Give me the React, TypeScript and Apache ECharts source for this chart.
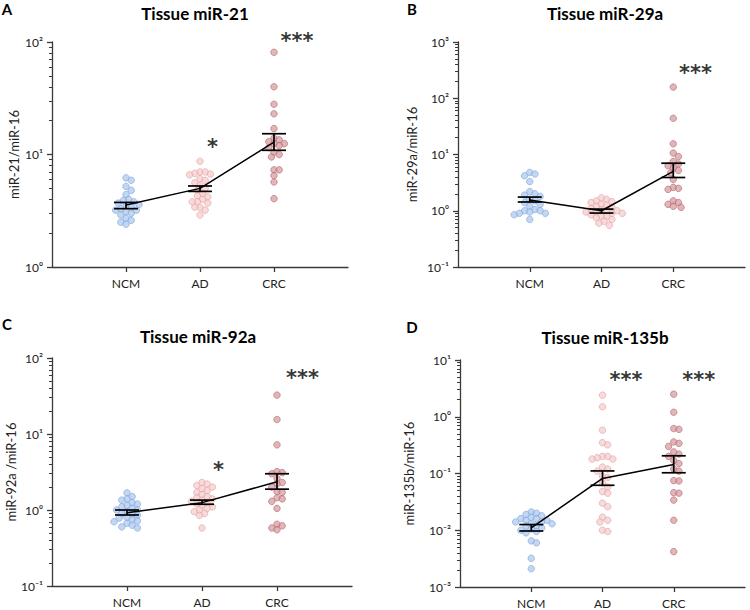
import React, { useEffect, useRef } from "react";
import * as echarts from "echarts";

const categories = ["NCM", "AD", "CRC"];

// Panel A – miR-21
const ncmA = [6.2, 5.9, 5.2, 4.8, 4.4, 4.0, 3.9, 3.8, 3.7, 3.6, 3.5, 3.4, 3.3, 3.2, 3.2, 3.1, 3.0, 2.9, 2.7, 2.6, 2.5, 2.4];
const adA = [8.7, 7.0, 7.0, 6.8, 6.7, 6.6, 6.1, 5.9, 5.6, 5.3, 5.0, 4.8, 4.5, 4.3, 4.2, 4.0, 3.8, 3.8, 3.7, 3.4, 3.4, 3.2, 2.9];
const crcA = [81, 40, 28, 23, 17, 14, 13.5, 13, 12.5, 12.5, 12, 11.5, 10.5, 10, 9.5, 7.3, 7.3, 6.5, 5.7, 4.05];
const meanA = [3.55, 5.0, 12.9];
const upperA = [3.75, 5.25, 15.3];
const lowerA = [3.3, 4.7, 10.9];

// Panel B – miR-29a
const ncmB = [4.8, 4.5, 4.2, 3.3, 2.2, 2.0, 1.9, 1.8, 1.6, 1.5, 1.4, 1.3, 1.2, 1.05, 1.0, 1.0, 0.95, 0.9, 0.9, 0.85, 0.7];
const adB = [1.7, 1.6, 1.5, 1.45, 1.4, 1.3, 1.25, 1.2, 1.15, 1.1, 1.05, 1.0, 1.0, 0.95, 0.95, 0.9, 0.9, 0.85, 0.8, 0.8, 0.75, 0.7, 0.65, 0.6, 0.55];
const crcB = [158, 44, 15.5, 10.6, 9.2, 7.5, 6.8, 6.3, 5.7, 5.2, 4.7, 3.6, 2.6, 2.5, 2.4, 1.5, 1.4, 1.3, 1.2, 1.15];
const meanB = [1.55, 1.0, 5.0];
const upperB = [1.75, 1.07, 7.0];
const lowerB = [1.43, 0.91, 3.9];

// Panel C – miR-92a
const ncmC = [1.68, 1.5, 1.4, 1.35, 1.25, 1.2, 1.15, 1.1, 1.05, 1.0, 1.0, 0.95, 0.9, 0.88, 0.85, 0.8, 0.78, 0.75, 0.72, 0.7, 0.67, 0.63, 0.6, 0.58];
const adC = [2.3, 2.2, 2.1, 2.0, 1.9, 1.8, 1.7, 1.6, 1.5, 1.45, 1.4, 1.35, 1.3, 1.25, 1.2, 1.15, 1.1, 1.05, 1.0, 0.95, 0.9, 0.85, 0.58];
const crcC = [32.5, 15.5, 7.2, 3.2, 3.1, 3.0, 2.6, 2.3, 2.2, 2.0, 1.75, 1.7, 1.45, 1.4, 1.3, 1.05, 0.65, 0.62, 0.58, 0.55];
const meanC = [0.92, 1.25, 2.35];
const upperC = [1.0, 1.35, 3.0];
const lowerC = [0.86, 1.19, 1.88];

// Panel D – miR-135b
const ncmD = [0.021, 0.02, 0.019, 0.018, 0.017, 0.016, 0.016, 0.015, 0.015, 0.014, 0.014, 0.013, 0.013, 0.012, 0.012, 0.011, 0.0105, 0.01, 0.0095, 0.009, 0.0065, 0.006, 0.0032, 0.0021];
const adD = [2.4, 1.5, 0.58, 0.35, 0.32, 0.2, 0.2, 0.19, 0.18, 0.18, 0.13, 0.12, 0.11, 0.09, 0.085, 0.068, 0.058, 0.048, 0.045, 0.03, 0.026, 0.017, 0.015, 0.014, 0.01, 0.0095];
const crcD = [2.5, 1.2, 0.62, 0.6, 0.36, 0.34, 0.3, 0.24, 0.22, 0.2, 0.17, 0.15, 0.12, 0.11, 0.075, 0.074, 0.046, 0.045, 0.034, 0.015, 0.0042];
const meanD = [0.011, 0.082, 0.144];
const upperD = [0.0126, 0.111, 0.205];
const lowerD = [0.0097, 0.062, 0.103];

const FONT = 'Lato, "Open Sans", sans-serif';
const groupColors = [
  { fill: "rgba(166,196,238,0.85)", stroke: "#80a5db" },
  { fill: "rgba(246,200,201,0.85)", stroke: "#e0a3a5" },
  { fill: "rgba(212,146,152,0.85)", stroke: "#b06a72" },
];

const panels = [
  {
    letter: "A", title: "Tissue miR-21", yName: "miR-21/miR-16", yMinExp: 0, yMaxExp: 2,
    groups: [ncmA, adA, crcA], mean: meanA, upper: upperA, lower: lowerA,
    grid: { left: 52, top: 42, width: 296, height: 225 }, nameGap: 32,
    titlePos: [195, 13], letterPos: [7, 9],
    stars: [{ x: 2.17, y: 11.7, text: "*" }, { x: 3.31, y: 102, text: "***" }],
  },
  {
    letter: "B", title: "Tissue miR-29a", yName: "miR-29a/miR-16", yMinExp: -1, yMaxExp: 3,
    groups: [ncmB, adB, crcB], mean: meanB, upper: upperB, lower: lowerB,
    grid: { left: 458, top: 42, width: 287, height: 225 }, nameGap: 40,
    titlePos: [605, 13], letterPos: [412, 9],
    stars: [{ x: 3.31, y: 281, text: "***" }],
  },
  {
    letter: "C", title: "Tissue miR-92a", yName: "miR-92a /miR-16", yMinExp: -1, yMaxExp: 2,
    groups: [ncmC, adC, crcC], mean: meanC, upper: upperC, lower: lowerC,
    grid: { left: 52, top: 358, width: 300, height: 228 }, nameGap: 32,
    titlePos: [198, 336], letterPos: [7, 324],
    stars: [{ x: 2.22, y: 3.36, text: "*" }, { x: 3.34, y: 54.6, text: "***" }],
  },
  {
    letter: "D", title: "Tissue miR-135b", yName: "miR-135b/miR-16", yMinExp: -3, yMaxExp: 1,
    groups: [ncmD, adD, crcD], mean: meanD, upper: upperD, lower: lowerD,
    grid: { left: 460, top: 360, width: 285, height: 227 }, nameGap: 45,
    titlePos: [605, 337], letterPos: [412, 327],
    stars: [{ x: 2.33, y: 4.4, text: "***" }, { x: 3.35, y: 4.4, text: "***" }],
  },
];

const supMap: Record<string, string> = { "-": "⁻", "0": "⁰", "1": "¹", "2": "²", "3": "³" };
function powLabel(v: number) {
  const e = Math.round(Math.log10(v));
  return "10" + String(e).split("").map((c) => supMap[c] || c).join("");
}

function swarm(pys: number[], d: number): number[] {
  const order = pys.map((_, i) => i).sort((a, b) => pys[a] - pys[b]);
  const placed: { x: number; y: number }[] = [];
  const offs = new Array(pys.length).fill(0);
  for (const i of order) {
    for (let k = 0; k < 60; k++) {
      const off = k === 0 ? 0 : (k % 2 ? 1 : -1) * Math.ceil(k / 2) * d * 0.5;
      if (placed.every((p) => Math.hypot(p.x - off, p.y - pys[i]) >= d)) {
        offs[i] = off;
        placed.push({ x: off, y: pys[i] });
        break;
      }
    }
  }
  return offs;
}

export default function App() {
  const ref = useRef<HTMLDivElement>(null);
  useEffect(() => {
    if (!ref.current) return;
    const chart = echarts.init(ref.current, undefined, { renderer: "svg" });

    const grids: any[] = [];
    const xAxes: any[] = [];
    const yAxes: any[] = [];
    const baseSeries: any[] = [];
    const graphics: any[] = [];
    const axisColor = "#3a3a3a";

    panels.forEach((p, i) => {
      grids.push({ ...p.grid, outerBoundsMode: "none", containLabel: false });
      xAxes.push({
        type: "value", gridIndex: i, min: 0, max: 4,
        axisLine: { show: true, onZero: false, lineStyle: { color: axisColor, width: 1.3 } },
        axisTick: { show: true, customValues: [1, 2, 3], length: 5, lineStyle: { color: axisColor, width: 1.3 } },
        axisLabel: {
          customValues: [1, 2, 3], margin: 10, fontFamily: FONT, fontSize: 12, color: "#222",
          formatter: (v: number) => categories[Math.round(v) - 1] || "",
        },
        splitLine: { show: false },
      });
      const majors: number[] = [];
      const minors: number[] = [];
      for (let e = p.yMinExp; e <= p.yMaxExp; e++) {
        majors.push(Math.pow(10, e));
        if (e < p.yMaxExp) for (let m = 2; m <= 9; m++) minors.push(+(m * Math.pow(10, e)).toPrecision(3));
      }
      yAxes.push({
        type: "log", logBase: 10, gridIndex: i, position: "left", offset: 0,
        min: Math.pow(10, p.yMinExp), max: Math.pow(10, p.yMaxExp),
        name: p.yName, nameLocation: "middle", nameGap: p.nameGap,
        nameTextStyle: { fontFamily: FONT, fontSize: 13, color: "#222" },
        axisLine: { show: true, onZero: false, lineStyle: { color: axisColor, width: 1.3 } },
        axisTick: { show: true, customValues: majors, length: 5, lineStyle: { color: axisColor, width: 1.3 } },
        axisLabel: { customValues: majors, margin: 9, fontFamily: FONT, fontSize: 12, color: "#222", formatter: powLabel },
        splitLine: { show: false },
        minorTick: { show: false },
      });
      yAxes.push({
        type: "log", logBase: 10, gridIndex: i, position: "left", offset: 0,
        min: Math.pow(10, p.yMinExp), max: Math.pow(10, p.yMaxExp),
        axisLine: { show: false },
        axisTick: { show: true, customValues: minors, length: 3, lineStyle: { color: axisColor, width: 1 } },
        axisLabel: { show: false },
        splitLine: { show: false },
      });
      baseSeries.push({
        type: "line", xAxisIndex: i, yAxisIndex: 2 * i, z: 4,
        data: p.mean.map((m, k) => [k + 1, m]),
        symbol: "none", lineStyle: { color: "#000", width: 1.5 }, silent: true,
      });
      baseSeries.push({
        type: "custom", xAxisIndex: i, yAxisIndex: 2 * i, z: 5,
        data: p.mean.map((_, k) => [k + 1, p.lower[k], p.upper[k]]),
        renderItem: (_params: any, api: any) => {
          const x = api.value(0);
          const lo = api.coord([x, api.value(1)]);
          const hi = api.coord([x, api.value(2)]);
          const hw = 12;
          const st = { stroke: "#000", lineWidth: 1.7 };
          return {
            type: "group",
            children: [
              { type: "line", shape: { x1: lo[0], y1: lo[1], x2: hi[0], y2: hi[1] }, style: st },
              { type: "line", shape: { x1: lo[0] - hw, y1: lo[1], x2: lo[0] + hw, y2: lo[1] }, style: st },
              { type: "line", shape: { x1: hi[0] - hw, y1: hi[1], x2: hi[0] + hw, y2: hi[1] }, style: st },
            ],
          };
        },
      });
      baseSeries.push({
        type: "scatter", xAxisIndex: i, yAxisIndex: 2 * i, z: 6, clip: false,
        symbolSize: 0.1, itemStyle: { color: "transparent" }, silent: true,
        data: p.stars.map((s) => ({ value: [s.x, s.y], name: s.text })),
        label: {
          show: true, position: "inside", formatter: (d: any) => d.name,
          fontFamily: '"DejaVu Sans", sans-serif', fontSize: 21, fontWeight: "bold", color: "#000",
        },
      });
      graphics.push({
        type: "text", x: p.titlePos[0], y: p.titlePos[1],
        style: { text: p.title, font: `bold 17px ${FONT}`, fill: "#000", textAlign: "center", textVerticalAlign: "middle" },
      });
      graphics.push({
        type: "text", x: p.letterPos[0], y: p.letterPos[1],
        style: { text: p.letter, font: `bold 15px ${FONT}`, fill: "#000", textAlign: "center", textVerticalAlign: "middle" },
      });
    });

    const option: any = {
      animation: false,
      backgroundColor: "#fff",
      grid: grids,
      xAxis: xAxes,
      yAxis: yAxes,
      series: baseSeries,
      graphic: graphics,
    };
    chart.setOption(option);

    const scatterSeries: any[] = [];
    panels.forEach((p, i) => {
      const px1 = chart.convertToPixel({ xAxisIndex: i } as any, 1) as any as number;
      const px2 = chart.convertToPixel({ xAxisIndex: i } as any, 2) as any as number;
      const perUnit = px2 - px1;
      p.groups.forEach((vals, g) => {
        const pys = vals.map((v) => chart.convertToPixel({ yAxisIndex: 2 * i } as any, v) as any as number);
        const offs = swarm(pys, 5.2);
        scatterSeries.push({
          type: "scatter", xAxisIndex: i, yAxisIndex: 2 * i, z: 2, clip: false,
          symbol: "circle", symbolSize: 6.5,
          itemStyle: { color: groupColors[g].fill, borderColor: groupColors[g].stroke, borderWidth: 0.8 },
          data: vals.map((v, k) => [g + 1 + offs[k] / perUnit, v]),
        });
      });
    });
    chart.setOption({ series: [...baseSeries, ...scatterSeries] });

    return () => chart.dispose();
  }, []);
  return <div ref={ref} style={{ position: "fixed", left: 0, top: 0, width: 750, height: 610 }} />;
}
